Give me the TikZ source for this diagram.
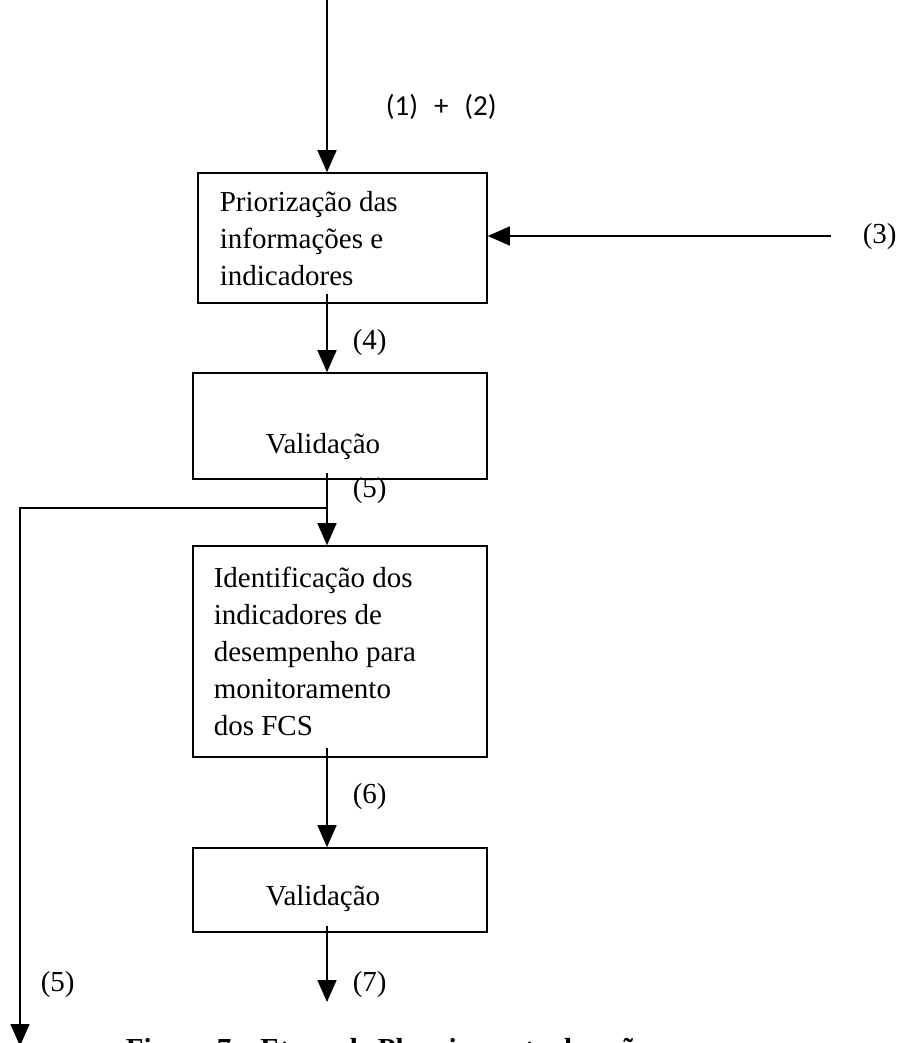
\documentclass[tikz,border=0pt]{standalone}
\usepackage{fontspec}
\setmainfont{Liberation Serif}
\newfontfamily\labelsans{Carlito}
\usetikzlibrary{arrows.meta,calc}

\begin{document}
\begin{tikzpicture}[x=1pt,y=-1pt,line width=1.6pt,
  flow/.style={-{Triangle[width=19pt,length=22pt]}},
  box/.style={draw,rectangle,inner sep=0pt,line width=1.6pt},
  boxtext/.style={font=\fontsize{29}{37}\selectfont,inner sep=0pt,align=left,anchor=base west},
  lbl/.style={font=\fontsize{29}{37}\selectfont,inner sep=0pt,anchor=base west}]
\useasboundingbox (0,0) rectangle (904,1043);

% vertical axis of the main flow
\coordinate (axis) at (327,0);

% process boxes
\node[box,minimum width=289pt,minimum height=130pt] (b1) at (342.5,238) {};
\node[box,minimum width=294pt,minimum height=106pt] (b2) at (340,426) {};
\node[box,minimum width=294pt,minimum height=211pt] (b3) at (340,651.5) {};
\node[box,minimum width=294pt,minimum height=84pt]  (b4) at (340,890) {};

% box contents (multi-line nodes sit on the baseline of their last line)
\node[boxtext] (t1) at (219,285) {Priorização das\\informações e\\indicadores};
\node[lbl] (t2) at (265,453) {Validação};
\node[boxtext] (t3) at (213,735) {Identificação dos\\indicadores de\\desempenho para\\monitoramento\\dos FCS};
\node[lbl] (t4) at (265,905) {Validação};

% flow labels
\node[font=\labelsans\fontsize{29}{35}\selectfont,inner sep=0pt,anchor=base west] (l12) at (385,116) {(1)\hspace{0.55em}+\hspace{0.55em}(2)};
\node[lbl] (l3) at (862,243) {(3)};
\node[lbl] (l4) at (352,349) {(4)};
\node[lbl] (l5a) at (352,497) {(5)};
\node[lbl] (l6) at (352,803) {(6)};
\node[lbl] (l7) at (352,991) {(7)};
\node[lbl] (l5b) at (40,991) {(5)};

% connectors
\coordinate (in12) at (327,0);
\coordinate (in3) at (831,236);
\coordinate (split) at (327,508);
\coordinate (out5) at (20,1046);
\coordinate (out7) at (327,1002);

\draw[flow] (in12) -- (b1.north -| axis);
\draw[flow] (in3) -- (in3 -| b1.east);
\draw[flow] ($(b1.south -| axis)+(0,-10)$) -- (b2.north -| axis);
\draw[flow] ($(b2.south -| axis)+(0,-7)$) -- (b3.north -| axis);
\draw[flow] (split) -| (out5);
\draw[flow] ($(b3.south -| axis)+(0,-10)$) -- (b4.north -| axis);
\draw[flow] ($(b4.south -| axis)+(0,-7)$) -- (out7);

% caption, running past the lower edge
\node[font=\bfseries\fontsize{29}{35}\selectfont,inner sep=0pt,anchor=base west] (cap) at (125,1058) {Figura 7 – Etapa de Planejamento da ação};
\end{tikzpicture}
\end{document}
